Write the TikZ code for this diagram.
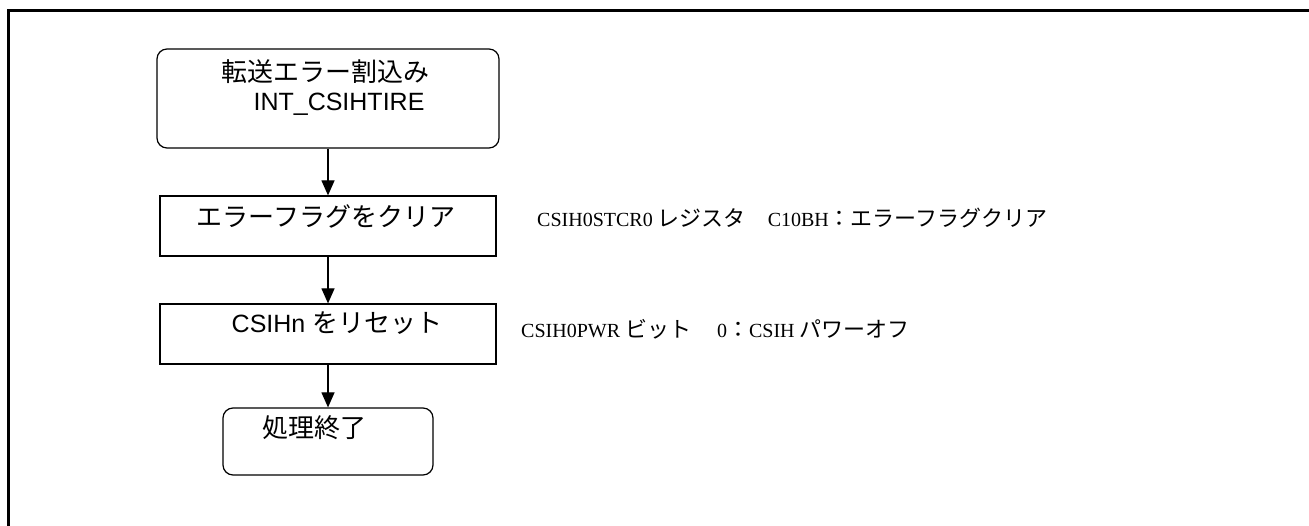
\documentclass[tikz,border=0pt]{standalone}
\usepackage{fontspec}
\setmainfont{Liberation Serif}
\newfontfamily\boxlatin{Liberation Sans}
\newfontfamily\jp{Noto Sans CJK JP}
\newcommand\bjp{\fontsize{26}{30}\selectfont\jp}
\newcommand\njp{\fontsize{22}{24}\selectfont\jp}
\usetikzlibrary{arrows.meta}
\begin{document}
\begin{tikzpicture}[x=1pt,y=-1pt,
  proc/.style={draw,line width=1.2pt,inner sep=0pt},
  term/.style={draw,line width=1.2pt,rounded corners=10pt,inner sep=0pt},
  boxtext/.style={inner sep=0pt,font=\fontsize{25}{30}\selectfont\boxlatin},
  note/.style={inner sep=0pt,anchor=west,font=\fontsize{20}{24}\selectfont},
  flow/.style={line width=1.2pt,-{Triangle[length=15pt,width=13pt]}}]
\useasboundingbox (0,0) rectangle (1309,526);
% frame (top and left only)
\draw[line width=3pt] (8,526) -- (8,11) -- (1309,11);
% boxes
\node[term,minimum width=342pt,minimum height=99pt] (b1) at (328,98.5) {};
\node[proc,minimum width=336pt,minimum height=60pt] (b2) at (328,226) {};
\node[proc,minimum width=336pt,minimum height=60pt] (b3) at (328,334) {};
\node[term,minimum width=210pt,minimum height=67pt] (b4) at (328,441.5) {};
% texts in boxes
\node[boxtext] (t1a) at (325,72) {\bjp 転送エラー割込み};
\node[boxtext] (t1b) at (339,104) {INT\_CSIHTIRE};
\node[boxtext] (t2) at (326,216) {\bjp エラーフラグをクリア};
\node[boxtext] (t3) at (337,323) {CSIHn {\bjp をリセット}};
\node[boxtext] (t4) at (314,428) {\bjp 処理終了};
% side notes
\node[note] (n1) at (537,218) {CSIH0STCR0 {\njp レジスタ　}C10BH{\njp ：エラーフラグクリア}};
\node[note] (n2) at (521,329) {CSIH0PWR {\njp ビット　}\hspace{4pt}0{\njp ：}CSIH {\njp パワーオフ}};
% connectors
\draw[flow] (b1.south) -- (b2.north);
\draw[flow] (b2.south) -- (b3.north);
\draw[flow] (b3.south) -- (b4.north);
\end{tikzpicture}
\end{document}
